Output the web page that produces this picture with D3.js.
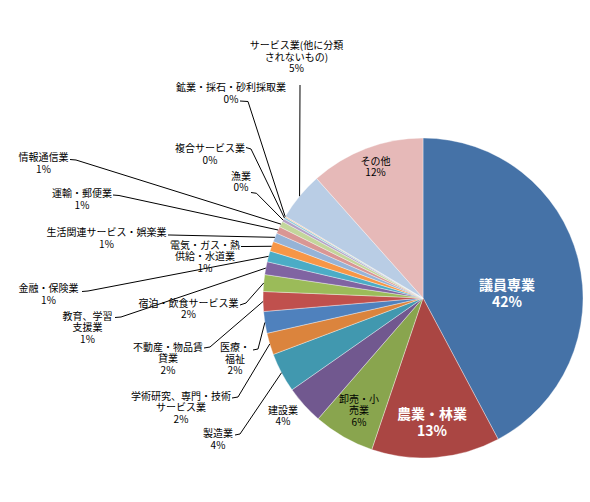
<!DOCTYPE html>
<html>
<head>
<meta charset="utf-8">
<script src="https://cdn.jsdelivr.net/npm/d3@7"></script>
<style>
  body { margin: 0; background: #fff; }
  text { font-family: "Noto Sans CJK JP", "Noto Sans", sans-serif; }
</style>
</head>
<body>
<svg width="590" height="502"></svg>
<script>
// data (percent of total)
const categories = [
  "議員専業", "農業・林業", "卸売・小売業", "建設業", "製造業",
  "学術研究、専門・技術サービス業", "医療・福祉", "不動産・物品賃貸業",
  "宿泊・飲食サービス業", "教育、学習支援業", "金融・保険業",
  "電気・ガス・熱供給・水道業", "生活関連サービス・娯楽業", "運輸・郵便業",
  "情報通信業", "漁業", "複合サービス業", "鉱業・採石・砂利採取業",
  "サービス業(他に分類されないもの)", "その他"
];
const values = [42.3, 13.0, 6.2, 3.9, 4.0, 2.2, 2.2, 2.0, 1.7, 1.3, 1.1, 1.0, 0.9, 0.7, 0.6, 0.3, 0.2, 0.1, 4.9, 11.6];

const colors = [
  "#4572A7", "#AA4643", "#89A54E", "#71588F", "#4198AF", "#DB843D",
  "#4F81BD", "#C0504D", "#9BBB59", "#8064A2", "#4BACC6", "#F79646",
  "#95B3D7", "#D99694", "#C3D69B", "#B3A2C7", "#93CDDD", "#FAC090",
  "#B9CDE5", "#E6B9B8"
];

// label placement: centre x, first line y, where the name breaks, leader start + elbow
const labelLayout = [
  { x: 507, y: 285, big: true },
  { x: 432, y: 414, big: true },
  { x: 359, y: 399, split: 4 },
  { x: 283, y: 410 },
  { x: 218, y: 433.5, leader: [[235, 435], [240, 434]] },
  { x: 181, y: 396, split: 10, leader: [[232, 398], [238, 397]] },
  { x: 235, y: 347.5, split: 3, leader: [[253, 350], [258, 349]] },
  { x: 168, y: 347, split: 7, leader: [[204, 348], [210, 347]] },
  { x: 188.5, y: 303, leader: [[240, 305], [246, 303]] },
  { x: 87.5, y: 316, split: 5, leader: [[115, 317.5], [121, 317]] },
  { x: 48.5, y: 288.5, leader: [[82, 291.5], [88, 291]] },
  { x: 205, y: 245, split: 7, leader: [[241, 246.5], [247, 246.5]] },
  { x: 106.5, y: 232.5, leader: [[168, 235], [170, 235]] },
  { x: 82, y: 193.5, leader: [[113, 195], [119, 195.5]] },
  { x: 43.5, y: 157.5, leader: [[70, 159.5], [76, 160]] },
  { x: 241, y: 176, leader: [[251, 192.5], [256.5, 193.3]] },
  { x: 210, y: 148.5, leader: [[246, 147.5], [251, 149]] },
  { x: 231, y: 87.5, leader: [[240, 101], [248, 101.5]] },
  { x: 296.5, y: 45.5, split: 10, leader: [[300, 85], [300, 86]] },
  { x: 375.5, y: 161 }
];

const cx = 423, cy = 298, radius = 160;
const svg = d3.select("svg");
const g = svg.append("g").attr("transform", "translate(" + cx + "," + cy + ")");

const total = d3.sum(values);
const pie = d3.pie().sort(null).value(d => d);
const arc = d3.arc().innerRadius(0).outerRadius(radius);
const edge = d3.arc().innerRadius(radius).outerRadius(radius);

const slices = pie(values);

g.selectAll("path.slice")
  .data(slices)
  .enter()
  .append("path")
  .attr("class", "slice")
  .attr("d", arc)
  .attr("fill", (d, i) => colors[i])
  .attr("stroke", "#fff")
  .attr("stroke-opacity", 0.6)
  .attr("stroke-width", 0.6);

// leader lines, from label to the middle of the slice's rim
slices.forEach(function(d, i) {
  const lay = labelLayout[i];
  if (!lay.leader) return;
  const p = edge.centroid(d);
  const pts = lay.leader.concat([[p[0] + cx, p[1] + cy]]);
  svg.append("path")
    .attr("d", d3.line()(pts))
    .attr("fill", "none")
    .attr("stroke", "#000")
    .attr("stroke-width", 1);
});

// labels
slices.forEach(function(d, i) {
  const lay = labelLayout[i];
  const name = categories[i];
  const lines = lay.split ? [name.slice(0, lay.split), name.slice(lay.split)] : [name];
  lines.push(Math.round(d.value / total * 100) + "%");
  const size = lay.big ? 14 : 10;
  const lh = lay.big ? 16.5 : 11.6;
  const t = svg.append("text")
    .attr("text-anchor", "middle")
    .attr("font-size", size + "px")
    .attr("font-weight", lay.big ? "bold" : "normal")
    .attr("fill", lay.big ? "#fff" : "#000");
  lines.forEach(function(s, k) {
    t.append("tspan")
      .attr("x", lay.x)
      .attr("y", lay.y + k * lh + size * 0.36)
      .text(s);
  });
});
</script>
</body>
</html>
